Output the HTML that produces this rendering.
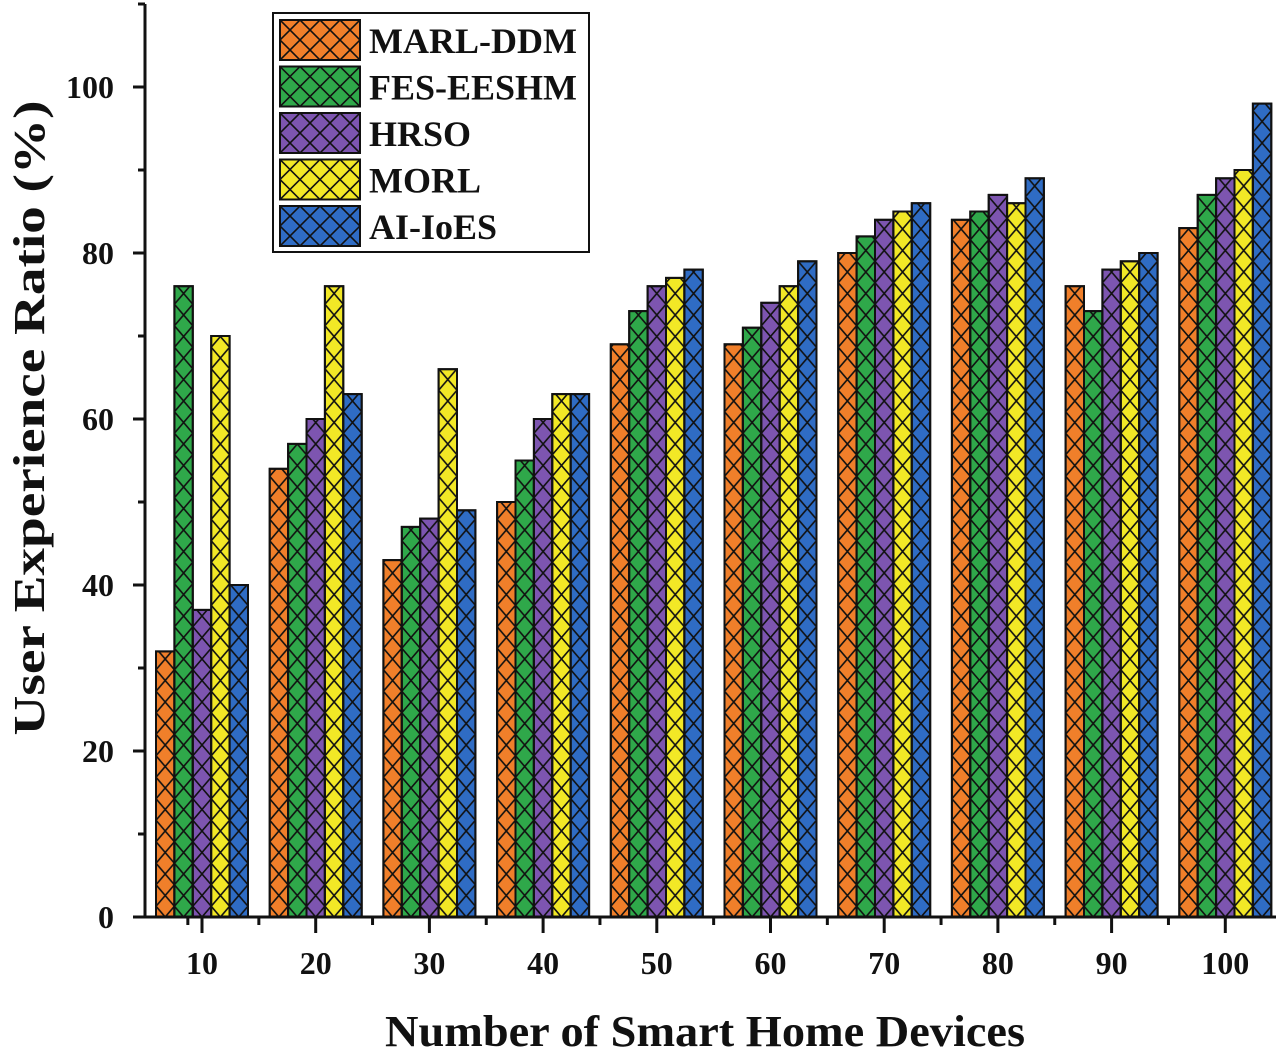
<!DOCTYPE html>
<html><head><meta charset="utf-8"><style>
html,body{margin:0;padding:0;background:#fff;}
svg text{font-family:"Liberation Serif",serif;font-weight:bold;fill:#111;}
</style></head><body>
<svg id="chart" width="1280" height="1054" viewBox="0 0 1280 1054" xmlns="http://www.w3.org/2000/svg">
<defs id="defs"></defs>
<g id="bars"></g>
<g id="axes"></g>
<g id="legend"></g>
<text x="705" y="1046" font-size="44" text-anchor="middle" textLength="640" lengthAdjust="spacingAndGlyphs">Number of Smart Home Devices</text>
<text transform="translate(44,418) rotate(-90)" font-size="44" text-anchor="middle" textLength="635" lengthAdjust="spacingAndGlyphs">User Experience Ratio (%)</text>
</svg>
<script>
const categories = ["10","20","30","40","50","60","70","80","90","100"];
const seriesNames = ["MARL-DDM","FES-EESHM","HRSO","MORL","AI-IoES"];
const marlDdm = [32,54,43,50,69,69,80,84,76,83];
const fesEeshm = [76,57,47,55,73,71,82,85,73,87];
const hrso = [37,60,48,60,76,74,84,87,78,89];
const morl = [70,76,66,63,77,76,85,86,79,90];
const aiIoes = [40,63,49,63,78,79,86,89,80,98];
const yTicks = [0,20,40,60,80,100];
const colors = ["#f07f2a","#2fa84a","#7d55b0","#f2e826","#2f6cc4"];
const series = [marlDdm,fesEeshm,hrso,morl,aiIoes];

const NS="http://www.w3.org/2000/svg";
const x0=145, y0=917, yScale=8.3, pitch=113.7, firstCenter=202, barW=18.4, hatchH=21.5;
const yPos = v => y0 - v*yScale;
const xCenter = i => firstCenter + i*pitch;
function mk(tag, attrs, parent){const e=document.createElementNS(NS,tag);for(const k in attrs)e.setAttribute(k,attrs[k]);parent.appendChild(e);return e;}
const defs=document.getElementById('defs');
let pid=0;
function hatchFor(x,w,y){
  const id='h'+(pid++);
  const p=mk('pattern',{id:id,patternUnits:'userSpaceOnUse',x:x+w/2,y:y,width:w,height:hatchH},defs);
  mk('path',{d:`M0,0 L${w},${hatchH} M${w},0 L0,${hatchH}`,stroke:'#111','stroke-width':1.6},p);
  return 'url(#'+id+')';
}

const bars=document.getElementById('bars');
categories.forEach((c,i)=>{
  series.forEach((s,j)=>{
    const x=xCenter(i)-2.5*barW+j*barW, y=yPos(s[i]);
    const r=mk('rect',{x:x,y:y,width:barW,height:y0-y,fill:colors[j],stroke:'#111','stroke-width':2},bars);
    
    
    const h=mk('rect',{x:x,y:y,width:barW,height:y0-y,fill:hatchFor(x,barW,y0),stroke:'#111','stroke-width':2},bars);
    
    
  });
});

const axes=document.getElementById('axes');
const ya=mk('line',{x1:x0,y1:4,x2:x0,y2:y0,stroke:'#111','stroke-width':3},axes);


const xa=mk('line',{x1:x0,y1:y0,x2:1276,y2:y0,stroke:'#111','stroke-width':3},axes);


for(let v=0; v<=110; v+=10){
  const major = v%20===0;
  mk('line',{x1:x0-(major?12:7),y1:yPos(v),x2:x0,y2:yPos(v),stroke:'#111','stroke-width':3},axes);
}
yTicks.forEach(v=>{
  const t=mk('text',{x:114,y:yPos(v)+11,'font-size':32,'text-anchor':'end'},axes);
  t.textContent=v;
  
  
});
categories.forEach((c,i)=>{
  const xc=xCenter(i);
  mk('line',{x1:xc,y1:y0,x2:xc,y2:y0+16,stroke:'#111','stroke-width':3},axes);
  mk('line',{x1:xc+pitch/2,y1:y0,x2:xc+pitch/2,y2:y0+8,stroke:'#111','stroke-width':3},axes);
  const t=mk('text',{x:xc,y:y0+57,'font-size':32,'text-anchor':'middle'},axes);
  t.textContent=c;
  
  
});
mk('line',{x1:x0+pitch/2-14,y1:y0,x2:x0+pitch/2-14,y2:y0+8,stroke:'#111','stroke-width':3},axes);

const lg=document.getElementById('legend');
const box=mk('rect',{x:273,y:13,width:316,height:239,fill:'#fff',stroke:'#111','stroke-width':2},lg);


seriesNames.forEach((n,j)=>{
  const y=20+j*46.5;
  const s=mk('rect',{x:280,y:y,width:80,height:40,fill:colors[j],stroke:'#111','stroke-width':2},lg);
  
  
  const pat=mk('pattern',{id:'lg'+j,patternUnits:'userSpaceOnUse',x:280,y:y,width:20,height:20},defs);
  mk('path',{d:'M0,0 L20,20 M20,0 L0,20',stroke:'#111','stroke-width':1.6},pat);
  mk('rect',{x:280,y:y,width:80,height:40,fill:'url(#lg'+j+')'},lg);
  const t=mk('text',{x:369,y:y+33,'font-size':36},lg);
  t.textContent=n;
  
  
});
</script>
</body></html>
